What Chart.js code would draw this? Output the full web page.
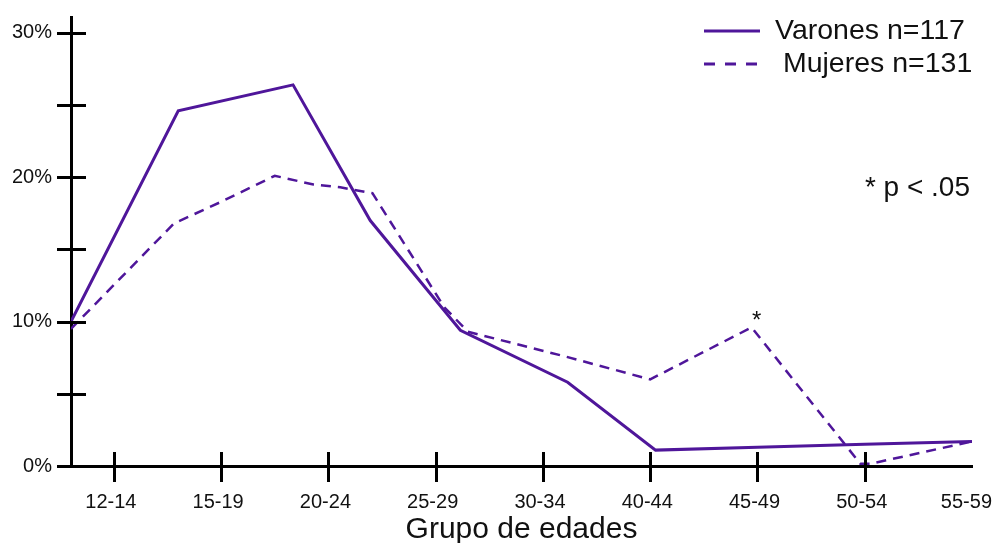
<!DOCTYPE html>
<html>
<head>
<meta charset="utf-8">
<script src="https://cdn.jsdelivr.net/npm/chart.js@4"></script>
<style>
  html, body { margin: 0; padding: 0; background: #fff; }
</style>
</head>
<body>
<canvas id="myChart" width="993" height="543"></canvas>
<script>
// grupos de edad del eje x
let ageGroups = ["12-14", "15-19", "20-24", "25-29", "30-34", "40-44", "45-49", "50-54", "55-59"];

// posicion en unidades de grupo (0 = 12-14) y porcentaje
let varonesX = [-0.4, 0.6, 1.67, 2.39, 3.23, 4.23, 5.05, 6.0, 7.0, 8.0];
let varonesY = [10.0, 24.6, 26.4, 17.0, 9.4, 5.8, 1.1, 1.3, 1.5, 1.7];

let mujeresX = [-0.4, 0.56, 1.0, 1.5, 1.86, 2.11, 2.41, 3.08, 3.3, 4.2, 5.0, 5.945, 6.96, 7.05, 8.0];
let mujeresY = [9.5, 16.8, 18.3, 20.1, 19.5, 19.3, 18.9, 11.0, 9.3, 7.6, 6.0, 9.6, 0.15, 0.15, 1.7];

let yTicks = [0, 5, 10, 15, 20, 25, 30];
let seriesLabels = ["Varones n=117", " Mujeres n=131"];
let noteText = "* p < .05";
let markText = "*";
let markIndex = 11; // punto 45-49 de mujeres

const purple = "#4f169a";
const fontFamily = "'Liberation Sans', Arial, sans-serif";

function toPoints(xs, ys) {
  return xs.map((x, i) => ({ x: x, y: ys[i] }));
}

// marcas de los ejes, etiquetas del eje x, leyenda y notas
const extras = {
  id: "extras",
  afterDraw(chart) {
    const ctx = chart.ctx;
    const xs = chart.scales.x;
    const ys = chart.scales.y;
    const area = chart.chartArea;
    ctx.save();
    ctx.strokeStyle = "#000";
    ctx.lineWidth = 3;

    // marcas del eje y (cruzan el eje)
    for (const v of yTicks) {
      const py = Math.round(ys.getPixelForValue(v)) + 0.5;
      ctx.beginPath();
      ctx.moveTo(area.left - 14, py);
      ctx.lineTo(area.left + 15, py);
      ctx.stroke();
    }
    // marcas del eje x (no hay en el ultimo grupo)
    for (let i = 0; i < ageGroups.length - 1; i++) {
      const px = Math.round(xs.getPixelForValue(i)) + 0.5;
      ctx.beginPath();
      ctx.moveTo(px, area.bottom - 14);
      ctx.lineTo(px, area.bottom + 16);
      ctx.stroke();
    }

    // etiquetas del eje x
    ctx.fillStyle = "#111";
    ctx.font = "20px " + fontFamily;
    ctx.textAlign = "center";
    ctx.textBaseline = "alphabetic";
    ageGroups.forEach((g, i) => {
      const w = ctx.measureText(g).width;
      let px = xs.getPixelForValue(i) - 3;
      px = Math.min(px, chart.width - w / 2 - 1);
      ctx.fillText(g, px, 508);
    });

    // leyenda
    chart.data.datasets.forEach((ds, i) => {
      const rowY = 31 + i * 33;
      ctx.strokeStyle = ds.borderColor;
      ctx.lineWidth = 3;
      ctx.setLineDash(ds.borderDash && ds.borderDash.length ? [11, 10] : []);
      ctx.beginPath();
      ctx.moveTo(704, rowY);
      ctx.lineTo(760, rowY);
      ctx.stroke();
      ctx.setLineDash([]);
      ctx.fillStyle = "#111";
      ctx.font = "28.5px " + fontFamily;
      ctx.textAlign = "left";
      ctx.fillText(ds.label, 775, rowY + 7.5);
    });

    // nota de significacion
    ctx.font = "28px " + fontFamily;
    ctx.textAlign = "right";
    ctx.fillText(noteText, 970, 196);

    // asterisco sobre el punto 45-49
    const pt = chart.getDatasetMeta(1).data[markIndex];
    ctx.font = "24px " + fontFamily;
    ctx.textAlign = "center";
    ctx.fillText(markText, pt.x + 5, pt.y + 1);
    ctx.restore();
  }
};

let config = {
  type: "line",
  data: {
    datasets: [
      {
        label: seriesLabels[0],
        data: toPoints(varonesX, varonesY),
        borderColor: purple,
        borderWidth: 3,
        pointRadius: 0,
        tension: 0,
        fill: false,
      },
      {
        label: seriesLabels[1],
        data: toPoints(mujeresX, mujeresY),
        borderColor: purple,
        borderWidth: 2.5,
        borderDash: [10, 7],
        pointRadius: 0,
        tension: 0,
        fill: false,
      },
    ],
  },
  options: {
    responsive: false,
    animation: false,
    devicePixelRatio: 1,
    layout: { padding: { top: 17, right: 21, left: 0, bottom: 0 } },
    plugins: {
      legend: { display: false },
      tooltip: { enabled: false },
    },
    scales: {
      x: {
        type: "linear",
        min: -0.4,
        max: 8,
        grid: { display: false, drawTicks: false },
        border: { display: true, color: "#000", width: 3 },
        ticks: { display: false },
        title: {
          display: true,
          text: "Grupo de edades",
          color: "#111",
          font: { family: fontFamily, size: 30, lineHeight: 0.9 },
          padding: 0,
        },
        afterFit(scale) {
          scale.height = 77;
          scale.paddingLeft = 0;
          scale.paddingRight = 0;
        },
      },
      y: {
        min: 0,
        max: 31.1,
        grid: { display: false, drawTicks: false },
        border: { display: true, color: "#000", width: 3 },
        ticks: {
          color: "#111",
          padding: 19,
          font: { family: fontFamily, size: 20 },
          callback: (v) => (v % 10 === 0 ? v + "%" : ""),
        },
        afterBuildTicks(scale) {
          scale.ticks = yTicks.map((v) => ({ value: v }));
        },
        afterFit(scale) {
          scale.width = 71;
          scale.paddingTop = 0;
          scale.paddingBottom = 0;
        },
      },
    },
  },
  plugins: [extras],
};

new Chart(document.getElementById("myChart"), config);
</script>
</body>
</html>
